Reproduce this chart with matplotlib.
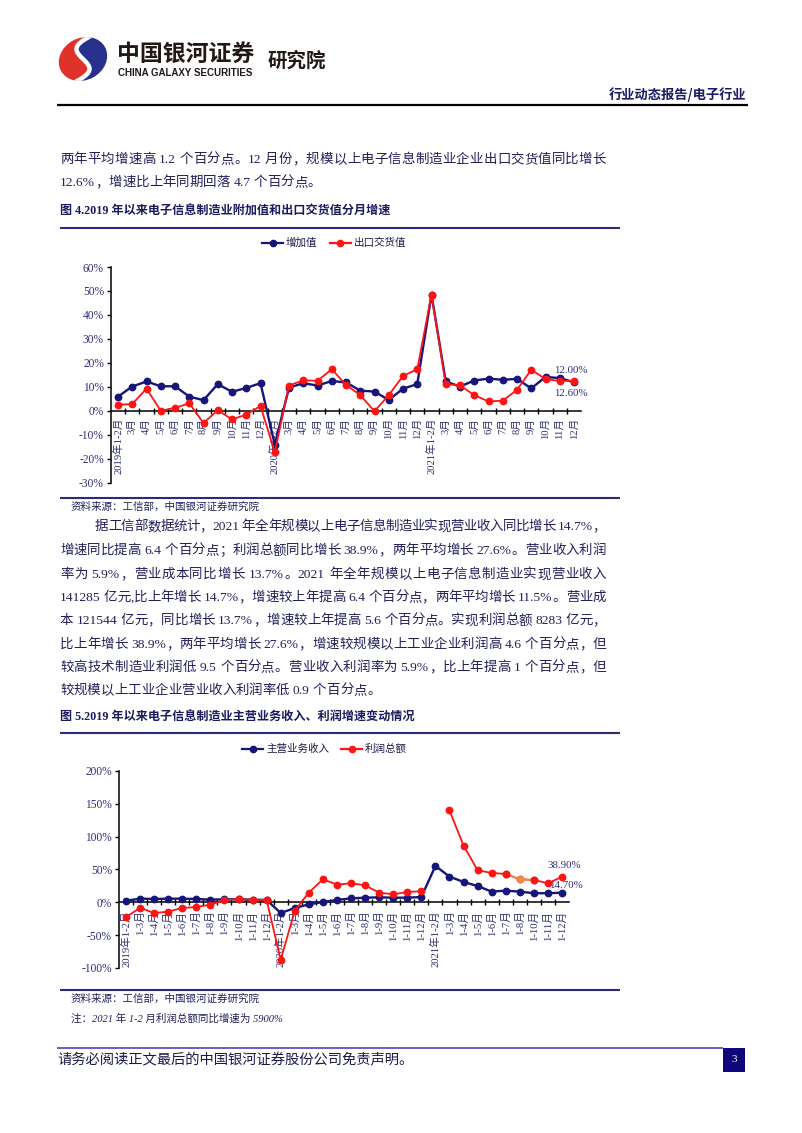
import numpy as np
import matplotlib
matplotlib.use('Agg')
import matplotlib.pyplot as plt
from matplotlib.lines import Line2D
from matplotlib.patches import Polygon, Rectangle, Ellipse

W, H = 802, 1133
CJK = ['Noto Sans CJK SC', 'DejaVu Sans']
MIX = ['Liberation Serif', 'Noto Sans CJK SC', 'DejaVu Sans']

NAVY = '#16167a'
RED = '#ff1414'
ORANGE = '#f08a4a'
TXT = '#22205a'

# ---------------- data: chart 1 ----------------
c1_labels = ['2019年1-2月', '3月', '4月', '5月', '6月', '7月', '8月', '9月', '10月', '11月', '12月',
             '2020年1-2月', '3月', '4月', '5月', '6月', '7月', '8月', '9月', '10月', '11月', '12月',
             '2021年1-2月', '3月', '4月', '5月', '6月', '7月', '8月', '9月', '10月', '11月', '12月']
c1_added = [6.0, 10.2, 12.3, 10.3, 10.3, 6.0, 4.5, 11.2, 8.0, 9.6, 11.6,
            -14.0, 9.7, 11.6, 10.6, 12.5, 11.9, 8.5, 8.1, 4.6, 9.3, 11.2,
            48.5, 12.3, 10.2, 12.7, 13.5, 13.0, 13.4, 9.4, 14.2, 13.7, 12.0]
c1_export = [2.6, 2.9, 9.3, 0.1, 1.3, 3.2, -5.0, 0.3, -3.5, -1.5, 2.1,
             -17.2, 10.6, 12.8, 12.6, 17.4, 10.9, 6.6, -0.1, 6.6, 14.6, 17.4,
             48.5, 11.2, 10.7, 6.6, 4.0, 4.3, 8.8, 17.2, 13.3, 12.5, 12.6]
c1_series = ['增加值', '出口交货值']
c1_yticks = [-30, -20, -10, 0, 10, 20, 30, 40, 50, 60]

# ---------------- data: chart 2 ----------------
c2_labels = ['2019年1-2月', '1-3月', '1-4月', '1-5月', '1-6月', '1-7月', '1-8月', '1-9月', '1-10月', '1-11月', '1-12月',
             '2020年1-2月', '1-3月', '1-4月', '1-5月', '1-6月', '1-7月', '1-8月', '1-9月', '1-10月', '1-11月', '1-12月',
             '2021年1-2月', '1-3月', '1-4月', '1-5月', '1-6月', '1-7月', '1-8月', '1-10月', '1-11月', '1-12月']
c2_revenue = [2.5, 5.6, 5.1, 5.6, 5.6, 5.1, 4.1, 4.6, 4.6, 4.1, 3.6,
              -16.3, -8.6, -3.1, 0.5, 3.6, 6.1, 7.1, 7.6, 7.1, 7.1, 8.1,
              55.4, 39.2, 31.0, 24.9, 16.3, 17.8, 16.3, 13.9, 13.9, 14.7]
c2_profit = [-22.9, -8.1, -16.3, -14.2, -8.6, -7.1, -3.6, 3.1, 5.1, 3.6, 3.6,
             -87.5, -12.7, 14.8, 35.1, 27.0, 29.0, 25.9, 14.8, 12.2, 15.8, 16.8,
             np.nan, 139.9, 86.5, 48.8, 44.8, 43.2, 35.1, 34.1, 29.0, 38.9]
c2_series = ['主营业务收入', '利润总额']
c2_yticks = [-100, -50, 0, 50, 100, 150, 200]
c2_highlight = 28  # 1-8月 (orange point)

# ---------------- text ----------------
para1 = ['两年平均增速高 1.2 个百分点。12 月份，规模以上电子信息制造业企业出口交货值同比增长',
         '12.6%，增速比上年同期回落 4.7 个百分点。']
para2 = ['据工信部数据统计，2021 年全年规模以上电子信息制造业实现营业收入同比增长 14.7%，',
         '增速同比提高 6.4 个百分点；利润总额同比增长 38.9%，两年平均增长 27.6%。营业收入利润',
         '率为 5.9%，营业成本同比增长 13.7%。2021 年全年规模以上电子信息制造业实现营业收入',
         '141285 亿元,比上年增长 14.7%，增速较上年提高 6.4 个百分点，两年平均增长 11.5%。营业成',
         '本 121544 亿元，同比增长 13.7%，增速较上年提高 5.6 个百分点。实现利润总额 8283 亿元，',
         '比上年增长 38.9%，两年平均增长 27.6%，增速较规模以上工业企业利润高 4.6 个百分点，但',
         '较高技术制造业利润低 9.5 个百分点。营业收入利润率为 5.9%，比上年提高 1 个百分点，但',
         '较规模以上工业企业营业收入利润率低 0.9 个百分点。']

fig = plt.figure(figsize=(W / 100, H / 100), dpi=100)
fig.patch.set_facecolor('white')
bg = fig.add_axes([0, 0, 1, 1])
bg.set_xlim(0, W)
bg.set_ylim(H, 0)
bg.axis('off')
renderer = fig.canvas.get_renderer()


def hline(x0, x1, y, color, lw):
    bg.add_line(Line2D([x0, x1], [y, y], color=color, lw=lw, solid_capstyle='butt'))


def tokenize(s):
    toks, buf = [], ''
    for ch in s:
        if ord(ch) < 128 and ch != ' ':
            buf += ch
        else:
            if buf:
                toks.append(buf)
                buf = ''
            toks.append(ch)
    if buf:
        toks.append(buf)
    return toks


def draw_line(s, x0, x1, y, fs, justify=True, color=TXT, family=MIX, weight='normal'):
    toks = tokenize(s)
    widths = []
    for t in toks:
        if t == ' ':
            widths.append(fs * 0.25 * 100 / 72)
        else:
            tt = bg.text(0, 0, t, fontsize=fs, family=family, fontweight=weight)
            widths.append(tt.get_window_extent(renderer).width)
            tt.remove()
    extra = 0
    if justify and len(toks) > 1:
        extra = (x1 - x0 - sum(widths)) / (len(toks) - 1)
    x = x0
    for t, w in zip(toks, widths):
        if t != ' ':
            bg.text(x, y, t, fontsize=fs, family=family, fontweight=weight, color=color,
                    ha='left', va='center')
        x += w + extra


# ---------------- header ----------------
# logo: tilted oval split by a white S curve, red on the left, navy on the right
cx, cy = 83, 59
clip = Ellipse((cx, cy), 50, 42, angle=-28, facecolor='none', edgecolor='none')
bg.add_patch(clip)
vv = np.linspace(1.3, -1.3, 80)
sx = cx - 11 * np.sin(np.pi * vv / 1.1) + 9 * vv
sy = cy - 22 * vv
left_poly = Polygon(np.column_stack([np.r_[sx, cx - 60, cx - 60], np.r_[sy, sy[-1], sy[0]]]),
                    closed=True, facecolor='#e0322a', edgecolor='none')
right_poly = Polygon(np.column_stack([np.r_[sx, cx + 60, cx + 60], np.r_[sy, sy[-1], sy[0]]]),
                     closed=True, facecolor='#27308a', edgecolor='none')
for p in (left_poly, right_poly):
    bg.add_patch(p)
    p.set_clip_path(clip)
sline = Line2D(sx, sy, color='white', lw=3.2)
bg.add_line(sline)
sline.set_clip_path(clip)

bg.text(117, 54, '中国银河证券', fontsize=16.5, family=CJK, fontweight='bold', color='#231815',
        ha='left', va='center')
bg.text(118, 72.5, 'CHINA GALAXY SECURITIES', fontsize=7.0, family=['Liberation Sans'],
        fontweight='bold', color='#231815', ha='left', va='center')
bg.text(268, 61, '研究院', fontsize=14, family=CJK, fontweight='bold', color='#231815',
        ha='left', va='center')
bg.text(746, 95, '行业动态报告/电子行业', fontsize=9.5, family=CJK, fontweight='bold',
        color='#1a1a66', ha='right', va='center')
hline(57, 748, 105, 'black', 1.6)

# ---------------- paragraph 1 ----------------
BODY_FS = 9.7
R_EDGE = 606
draw_line(para1[0], 60, R_EDGE, 160, BODY_FS, justify=True)
draw_line(para1[1], 60, R_EDGE, 183, BODY_FS, justify=False)

# ---------------- figure 4 ----------------
bg.text(60, 212, '图 4.2019 年以来电子信息制造业附加值和出口交货值分月增速', fontsize=8.7,
        family=MIX, fontweight='bold', color='#1a1a5e', ha='left', va='center')
hline(60, 620, 228, '#2b2b7a', 1.5)
hline(60, 620, 498, '#2b2b7a', 1.5)
bg.text(71, 507, '资料来源：工信部，中国银河证券研究院', fontsize=7.6, family=MIX,
        style='italic', color=TXT, ha='left', va='center')


def legend(x_start, y, names, colors, fs):
    x = x_start
    for nm, col in zip(names, colors):
        bg.add_line(Line2D([x, x + 21], [y, y], color=col, lw=1.6))
        bg.add_line(Line2D([x + 10.5], [y], color=col, marker='o', markersize=4.5, lw=0))
        t = bg.text(x + 24, y, nm, fontsize=fs, family=CJK, color='#1a1a4a', ha='left', va='center')
        x += 24 + t.get_window_extent(renderer).width + 12


def style_axes(ax, labels, yticks, ylim, label_fs, pad):
    n = len(labels)
    ax.set_xlim(-0.5, n - 0.5)
    ax.set_ylim(*ylim)
    ax.patch.set_alpha(0)
    for s in ['top', 'right']:
        ax.spines[s].set_visible(False)
    ax.spines['bottom'].set_position(('data', 0))
    ax.spines['left'].set_linewidth(1.1)
    ax.spines['bottom'].set_linewidth(1.1)
    ax.set_yticks(yticks)
    ax.set_yticklabels([f'{v}%' for v in yticks], family=MIX, fontsize=8.3, color='#2e2e78')
    ax.tick_params(axis='y', direction='out', length=3, width=1, pad=2)
    ax.set_xticks(np.arange(n))
    ax.set_xticklabels(labels, rotation=90, family=MIX, fontsize=label_fs, color='#2e2e6e',
                       ha='center', va='top')
    ax.tick_params(axis='x', which='major', length=0, pad=pad)
    ax.set_xticks(np.arange(n - 1) + 0.5, minor=True)
    ax.tick_params(axis='x', which='minor', direction='inout', length=5, width=1)


# chart 1
sp1 = (574 - 118) / 32
ax1 = fig.add_axes([(118 - sp1 / 2) / W, 1 - 483 / H, (574 - 118 + sp1) / W, (483 - 267) / H])
x1 = np.arange(len(c1_labels))
ax1.plot(x1, c1_added, color=NAVY, lw=1.7, marker='o', markersize=4.6, zorder=3)
ax1.plot(x1, c1_export, color=RED, lw=1.3, marker='o', markersize=4.6, zorder=4)
style_axes(ax1, c1_labels, c1_yticks, (-30, 60), 7.6, 5)
ax1.annotate(f'{c1_added[-1]:.2f}%', xy=(x1[-1], c1_added[-1]), xytext=(-3, 12),
             textcoords='offset pixels', ha='center', va='center', family=MIX, fontsize=7.8,
             color='#2e2e78')
ax1.annotate(f'{c1_export[-1]:.2f}%', xy=(x1[-1], c1_export[-1]), xytext=(-3, -13),
             textcoords='offset pixels', ha='center', va='center', family=MIX, fontsize=7.8,
             color='#2e2e78')
legend(262, 243, c1_series, [NAVY, RED], 7.6)

# ---------------- paragraph 2 ----------------
ys = [527, 551, 575, 598, 621, 645, 668, 691]
for i, (line, y) in enumerate(zip(para2, ys)):
    draw_line(line, 95 if i == 0 else 60, R_EDGE, y, BODY_FS, justify=(i < len(para2) - 1))

# ---------------- figure 5 ----------------
bg.text(60, 718, '图 5.2019 年以来电子信息制造业主营业务收入、利润增速变动情况', fontsize=8.7,
        family=MIX, fontweight='bold', color='#1a1a5e', ha='left', va='center')
hline(60, 620, 733, '#2b2b7a', 1.5)
hline(60, 620, 990, '#2b2b7a', 1.5)
bg.text(71, 999, '资料来源：工信部，中国银河证券研究院', fontsize=7.6, family=MIX,
        style='italic', color=TXT, ha='left', va='center')
bg.text(71, 1019, '注：2021 年 1-2 月利润总额同比增速为 5900%', fontsize=7.6, family=MIX,
        style='italic', color=TXT, ha='left', va='center')

sp2 = (562 - 126) / 31
ax2 = fig.add_axes([(126 - sp2 / 2) / W, 1 - 968 / H, (562 - 126 + sp2) / W, (968 - 771) / H])
x2 = np.arange(len(c2_labels))
ax2.plot(x2, c2_revenue, color=NAVY, lw=1.7, marker='o', markersize=4.6, zorder=3)
ax2.plot(x2, c2_profit, color=RED, lw=1.3, marker='o', markersize=4.6, zorder=4)
h = c2_highlight
ax2.plot(x2[h - 1:h + 2], c2_profit[h - 1:h + 2], color=ORANGE, lw=1.3, zorder=5)
ax2.plot([x2[h]], [c2_profit[h]], color=ORANGE, marker='o', markersize=4.6, lw=0, zorder=6)
ax2.plot(x2[[h - 1, h + 1]], [c2_profit[h - 1], c2_profit[h + 1]], color=RED, marker='o',
         markersize=4.6, lw=0, zorder=6)
style_axes(ax2, c2_labels, c2_yticks, (-100, 200), 7.7, 6)
ax2.annotate(f'{c2_profit[-1]:.2f}%', xy=(x2[-1], c2_profit[-1]), xytext=(2, 11),
             textcoords='offset pixels', ha='center', va='center', family=MIX, fontsize=7.8,
             color='#2e2e78')
ax2.annotate(f'{c2_revenue[-1]:.2f}%', xy=(x2[-1], c2_revenue[-1]), xytext=(4, 7),
             textcoords='offset pixels', ha='center', va='center', family=MIX, fontsize=7.8,
             color='#2e2e78')
legend(242, 749, c2_series, [NAVY, RED], 7.6)

# ---------------- footer ----------------
hline(57, 723, 1048, '#6a5fc0', 1.4)
bg.add_patch(Rectangle((723, 1047.5), 22, 24, facecolor='#10087a', edgecolor='none'))
bg.text(734, 1060, '3', fontsize=8, family=['Liberation Serif'], color='white', ha='center', va='center')
bg.text(57, 1060, '请务必阅读正文最后的中国银河证券股份公司免责声明。', fontsize=10.3, family=CJK,
        color='#1a1a4a', ha='left', va='center')

fig.savefig('out.png', dpi=100)
